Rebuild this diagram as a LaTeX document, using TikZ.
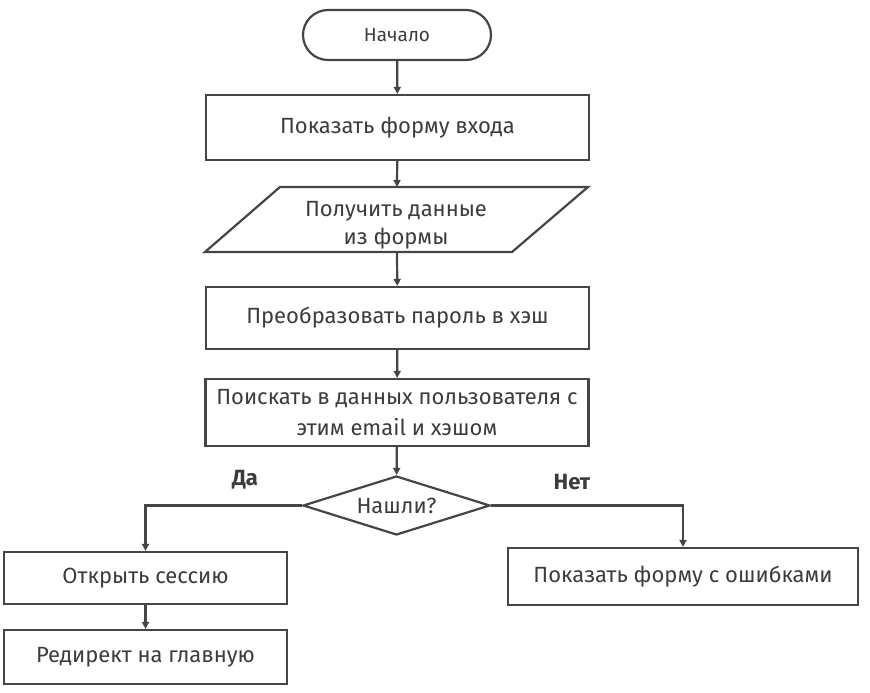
\documentclass[tikz,border=0pt]{standalone}
\usepackage{fontspec}
\setmainfont{Fira Sans}
\usetikzlibrary{arrows.meta,shapes.geometric}
\definecolor{ink}{HTML}{454545}
\definecolor{txt}{HTML}{3C3C3C}
\tikzset{
  every node/.style={text=txt, font=\fontsize{22}{30}\selectfont},
  box/.style={draw=ink, line width=2.2pt, minimum width=383pt, inner sep=0pt, align=center},
  term/.style={draw=ink, line width=2.2pt, rounded corners=25pt, minimum width=188pt, minimum height=50pt, font=\fontsize{19}{24}\selectfont},
  decision/.style={draw=ink, line width=2.2pt, diamond, aspect=3.15, minimum width=187pt, minimum height=59pt, inner sep=0pt},
  flow/.style={draw=ink, line width=2.2pt, -{Triangle[length=7pt,width=7pt]}},
  lbl/.style={font=\fontsize{22}{26}\selectfont\bfseries}
}
\begin{document}
\begin{tikzpicture}[x=1pt,y=-1pt]
  \useasboundingbox[fill=white] (0,0) rectangle (870,693);

  \node[term] (start) at (397,35) {Начало};
  \node[box, minimum height=65pt] (show) at (397.5,127.5) {Показать форму входа};
  % input block: parallelogram with its text and connection points
  \draw[ink, line width=2.2pt, line join=miter] (280,187) -- (588,187) -- (512,252) -- (205,252) -- cycle;
  \coordinate (intop) at (397,187);
  \coordinate (inbot) at (397,252);
  \node[inner sep=0pt, align=center, font=\fontsize{22}{28}\selectfont] (input) at (396,225) {Получить данные\\из формы};
  \node[box, minimum height=62pt] (hash) at (397.5,318) {Преобразовать пароль в хэш};
  \node[box, minimum height=67pt, font=\fontsize{22}{31}\selectfont] (find) at (397,412.5) {Поискать в данных пользователя с\\этим email и хэшом};
  \node[decision] (found) at (396.5,505.5) {Нашли?};
  \node[box, minimum width=283pt, minimum height=52pt] (open) at (145.5,578) {Открыть сессию};
  \node[box, minimum width=283pt, minimum height=54pt] (redir) at (145.5,657) {Редирект на главную};
  \node[box, minimum width=350pt, minimum height=57pt] (err) at (683,576.5) {Показать форму с ошибками};

  \node[lbl] (yes) at (245,480) {Да};
  \node[lbl] (no) at (572,482) {Нет};

  \draw[flow] (start) -- (show);
  \draw[flow] (show) -- (intop);
  \draw[flow] (inbot) -- (hash);
  \draw[flow] (hash) -- (find);
  \draw[flow] (find) -- (found);
  \draw[flow] (found.west) -| (open.north);
  \draw[flow] (found.east) -| (err.north);
  \draw[flow] (open) -- (redir);
\end{tikzpicture}
\end{document}
